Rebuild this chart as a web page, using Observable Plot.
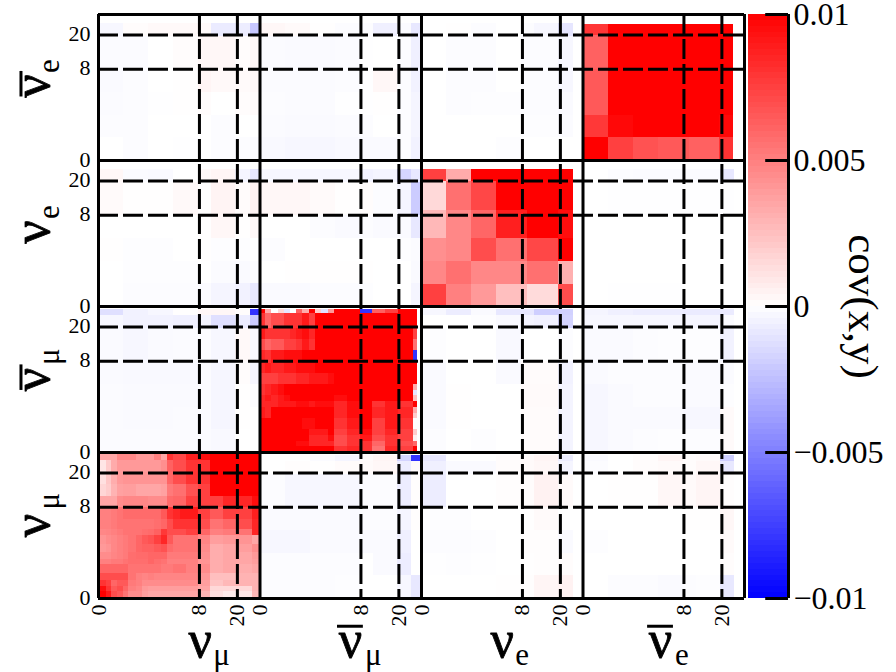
<!DOCTYPE html>
<html><head><meta charset="utf-8">
<script src="https://cdn.jsdelivr.net/npm/d3@7"></script>
<script src="https://cdn.jsdelivr.net/npm/@observablehq/plot@0.6"></script>
<style>
html,body{margin:0;padding:0;background:#fff;width:896px;height:672px;overflow:hidden}
#c{position:relative;width:896px;height:672px}
#c svg{position:absolute;left:0;top:0;background:transparent}
</style></head><body><div id="c"></div>
<script>
// Flavours, bottom-to-top and left-to-right; each occupies 100 axis units.
const flavourName = "ν";
const flavourBars = [false, true, false, true];
const flavourSubs = ["μ", "μ", "e", "e"];
const xNameAt = [63, 156, 250, 348];
const xSubAt = [71, 165, 258, 357];
const yNameAt = [42, 142, 243, 343];
const ySubAt = [61, 160, 260, 360];
const tickBins = [0, 62.5, 86];
const tickTexts = ["0", "8", "20"];
const colorTicks = [0.01, 0.005, 0, -0.005, -0.01];
const colorTickTexts = ["0.01", "0.005", "0", "−0.005", "−0.01"];

// All covariances below are read in units of 0.001. Rows run top to bottom.
const numuX = [0,4.9,8,11.5,15.2,18.7,23.3,27,31,34.6,38.7,42.8,46.5,50.6,54.7,62,69.5,77.4,85.6,95.3,100];
const numuY = [98.4,94.6,86,78,70,62,54.2,47.4,42.9,37.2,31.5,27,23.6,16.8,12.2,8.4,5,0];
const numuVals = [
[3.5,3.5,3.5,4.7,4.7,4.7,4,4,4,5,3.5,8,7.2,7.2,8.8,9.5,10,10,10,10],
[1,2,3.3,4,4,4,4,4,4,4,4.4,6.2,7,7,8,8,10,10,10,10],
[1.2,2.2,3.2,4,4.2,4.2,4.2,4.2,4.2,4.2,4.2,6,7,7,8,8,10,10,10,10],
[1.6,2,3,3.7,3.8,3.8,3.5,3.5,3.5,3.5,3.7,5.2,5.6,5.6,6.8,7.5,10,10,10,10],
[3.5,3.5,3.5,4.5,4.7,4.7,4.7,4.7,4.5,4.5,4.5,5.8,6,6,7.5,7.5,7.5,8.5,8.5,9.5],
[5,5,5.2,5.5,5.8,5.8,5.8,5.8,5.8,5.8,6.5,8,8.5,9,9,7.5,6.5,7.5,7.5,8.8],
[5,5,5.2,5.5,5.5,5.5,5.5,5.5,5.5,5.7,6,7,8,8,8,7,5.5,6,7,8.5],
[4.7,4.8,5,5.2,5.5,5.5,5.5,5.7,5.8,6.2,7.8,7,7,7,7.5,6,5,5.2,5.5,8.5],
[4.2,4.5,4.7,5,5.2,5.5,6,6.5,6.8,7.5,8.5,6.5,5.5,5.5,5.5,4.8,3.8,4,4.2,3.5],
[4,4.2,4.7,5,5.2,5.5,6,6.2,6.2,6.5,6.8,5.8,5.5,5.5,5.5,4.5,3.2,3.5,3.8,4.5],
[4.5,4.5,4.8,5,5.2,5.7,5.8,5.8,6,6,6,5.2,5.2,5.2,5.2,4.3,3.2,3.5,3.5,4],
[5,5,5.2,5.2,5.5,5.7,5.7,5.7,6,5.7,5.5,5,5,5,5,4.2,3.2,3.5,3.5,3.8],
[6,6,6,6,6,5.5,5.5,5.5,5.5,5.5,5.2,5.2,5.5,5.5,5,4.5,3.2,3.5,3.2,3.5],
[7,7,7,7,7,5.5,5,4.8,5,4.8,4.8,4.8,4.8,4.8,4.8,4,2.5,2.5,3,3],
[8,7.5,6,6.5,6.5,5.2,5,4.5,4.5,4.5,4.5,4.5,4.5,4.5,4.5,3.8,2.3,2.8,3,3],
[9.5,8,6.5,7,6,5,4.7,4,3.8,3.8,3.8,3.8,3.8,3.8,3.8,3.5,1.5,1.5,1.5,3],
[10,9,7,6.5,5.5,4.5,4.5,3.8,3.5,3.5,3.5,3.5,3.5,3.5,3.5,3,1.2,0.8,1,2.8]
];

const numubarX = [0.6,3.7,7.2,11.4,14.9,19,22.8,26.5,30.4,34.6,38.3,42.4,46,54.2,62,69.6,77.6,85.9,94.8];
const numubarY = [97.7,95,84.7,77.2,69.6,61.2,53.9,46.3,38.8,35,31,23.5,15.5,11.4,7.5,4.1,0.7];
const numubarVals = [
[10,3.3,0,1.5,-1,0,6.2,3.3,10,2,-1.2,4,10,10,-8,6.2,7.5,10],
[8,6,7,7,8,8,8,9,7.5,10,10,10,10,10,10,10,10,10],
[9,8,8,8,8,8.5,9,9.5,8.5,10,10,10,10,10,10,10,10,10],
[7,6,6.5,6.5,7.5,7.5,8,9,8,10,10,10,10,10,10,10,10,10],
[8.5,8,9,9,9.5,9.5,9.5,10,10,10,10,10,10,10,10,10,10,10],
[8.5,9,8.5,8.5,9,9,9.5,9.5,9.5,10,10,10,10,10,10,10,10,10],
[7.5,7.5,7.5,8,8,8,8.5,8.5,9,9,9,9.5,10,10,10,10,10,10],
[8,8.5,9,9.5,10,10,10,10,10,10,10,10,10,10,10,10,10,10],
[8.5,9,8.5,9,9.5,10,10,10,10,10,10,10,9.5,10,10,10,10,10],
[8.5,8.5,8.5,9,9,9,9.5,9.5,9,9.5,9.5,9.5,8.5,9.5,10,8,9,8],
[9,8.5,10,10,10,10,10,10,10,10,10,10,8.5,9.5,10,8.5,9,8.5],
[10,10,10,10,10,10,10,9.5,9.5,10,10,10,8,9,10,7.5,9,8],
[10,10,10,10,10,10,10,10,9,9,9,10,7.5,8.5,9.5,7.5,8.5,7.5],
[10,10,10,10,10,10,10,10,8.5,8.5,8.5,9.5,7,8,9,7,8,7.5],
[10,10,10,10,10,10,9.5,9.5,8.5,8.5,8.5,8.5,7,8,8,6,8,7],
[10,10,10,10,10,10,10,10,10,10,10,10,8,8.5,8,5.5,8.5,7.5]
];
const numubarEdgeX = [94.8,97.3];
const numubarEdgeY = [97.7,84.7,77.2,69.6,62,46.3,42.5,38.8,35,31,27,23.5,15.5,11.4,7.5,4.1,0.7];
const numubarEdgeVals = [[10],[7.5],[5.6],[-8],[10],[3.3],[-1],[2.5],[10],[3.3],[2],[0],[2],[0.6],[6],[10]];

const nueX = [0.4,15.5,31,46.5,65.7,84.9,94.2];
const nueY = [93.6,85.5,65.5,46.3,30.8,15.3,0];
const nueVals = [
[7.5,3.3,10,10,10,10],
[1.5,5.6,7.2,10,10,10],
[2.8,4.7,6,8.8,10,9.5],
[4.4,4.7,7,5.6,7.2,10],
[4.7,5.6,4.7,4.7,5.6,3.1],
[7.5,5,4,2.5,1.4,7]
];

const nuebarX = [1,15.5,31,46.5,66.1,84.7,93];
const nuebarY = [93,85.5,62,46.6,31,16,0];
const nuebarVals = [
[7.9,10,10,10,10,10],
[6.2,10,10,10,10,10],
[6.5,10,10,10,10,10],
[6.5,10,10,10,10,10],
[7.8,9.7,10,10,10,9.7],
[10,7.5,6.8,6.5,6.2,8]
];

// Off-diagonal blocks share a coarse grid.
const offX = [0,15.5,31,46.5,62,70,85,94,99.5];
const offY = [98,94,85,62,46.5,31,15.5,0];
const nuebarNumu = [[0,0,0,0,0,0,0,0],[-.3,.1,.25,.25,.2,-.8,-.7,-2.2],[-.15,-.15,0,.1,.3,.3,.1,.3],[-.2,-.1,0,.05,.4,.25,.2,.3],[-.15,-.1,-.05,.05,.1,0,.1,.2],[-.1,-.1,0,0,0,-.1,0,0],[0,-.1,0,-.05,0,-.1,-.1,-.15]];
const nuebarNumubar = [[0,0,0,0,0,0,0,0],[.3,.2,.05,-.1,-.1,-.6,-.15,-.9],[-.15,-.2,-.2,-.15,-.05,0,-.1,-.6],[-.15,-.15,-.15,-.1,-.05,.3,-.1,-.5],[-.1,-.15,-.15,-.05,-.05,.05,-.1,-.4],[-.15,-.2,-.2,-.15,-.1,0,-.1,-.4],[-.25,-.3,-.3,-.25,-.2,-.2,-.1,-.5]];
const nuebarNue = [[0,0,0,0,0,0,0,0],[0,.03,-.1,0,-.1,-.3,-1,0],[0,-.12,-.12,0,-.12,-.12,-.3,0],[0,-.12,-.12,0,-.12,-.12,-.3,0],[0,-.1,-.06,-.06,-.1,-.1,-.2,0],[0,0,0,0,-.06,-.06,-.15,0],[0,0,0,-.06,0,0,0,0]];
const nueNumu = [[0,0,0,0,0,0,0,0],[.3,-.15,-.2,0,.25,.4,-.4,-1],[.2,.05,.03,.25,.03,.45,.15,.5],[0,0,0,0,.05,.3,.05,.3],[.03,-.06,-.06,0,.03,-.06,-.06,0],[0,-.06,-.06,-.06,0,-.15,-.2,-.1],[0,-.1,-.1,-.12,-.15,-.4,-.5,-.9]];
const nueNumubar = [[0,0,0,0,0,0,0,0],[-.3,-.3,-.3,-.3,-.5,-.4,-1.6,-.9],[.3,.3,.2,.05,.1,-.1,-.4,-2],[0,0,-.12,-.2,-.12,-.2,-.2,-.9],[-.1,0,0,0,0,0,-.06,-.15],[0,.02,.02,.02,.05,0,0,-.2],[-.2,-.2,-.1,-.1,-.06,0,0,-.4]];
const nueNuebar = [[0,0,0,0,0,0,0,0],[0,-.12,-.15,-.15,-.15,-.15,-.9,0],[0,-.03,-.03,-.03,-.03,-.03,-.03,0],[0,0,0,0,0,0,0,0],[0,0,0,0,0,0,0,0],[0,0,0,0,0,0,0,0],[0,-.03,-.03,-.03,0,0,0,0]];
const numubarNumu = [[-1.2,-.5,-.3,.05,.3,.3,.1,-8],[-.3,-.5,-.5,-.6,-.4,-1.2,-.7,-2],[-.2,-.3,-.2,-.15,-.1,-.3,.25,-.25],[-.2,-.25,-.25,-.25,-.15,-.35,.1,-.4],[-.15,-.2,-.2,-.2,-.15,-.35,.05,-.1],[-.15,-.2,-.2,-.15,-.15,-.35,.05,0],[-.15,-.15,-.15,-.15,-.15,-.25,0,0]];
const numubarNue = [[-.3,-.7,-.2,-.9,-.9,-1.9,-1.8,0],[0,0,-.06,-.25,-.45,-.55,-1.7,0],[-.06,0,0,-.25,0,0,-.1,0],[-.2,0,0,-.2,.15,.15,-.5,0],[-.2,.03,0,0,.2,.2,-.45,0],[-.2,.03,0,0,.15,.15,-.45,0],[-.12,0,-.06,0,.15,.15,-.45,0]];
const numubarNuebar = [[-.4,-.6,-.7,-.7,-.8,-.8,-.8,0],[-.3,-.3,-.3,-.3,-.4,-.4,-.15,0],[-.2,-.2,-.12,-.06,-.06,-.06,-.5,0],[-.2,-.12,-.12,-.12,-.2,-.2,-.15,0],[-.3,-.2,-.12,-.12,-.2,-.2,-.06,0],[-.3,-.2,-.2,-.2,-.3,-.3,.2,0],[-.3,-.2,-.12,-.06,-.12,-.12,.2,0]];
const numuNumubar = [[0,0,-.15,-.4,.15,.4,-1.7,-8],[0,.06,.03,.15,.2,.3,-.7,.15],[-.12,-.3,-.3,-.3,-.12,-.12,-.7,.06],[-.2,-.2,-.2,-.2,-.12,-.12,-.4,.06],[-.3,-.3,-.2,-.2,-.2,-.2,-.6,0],[-.12,-.12,-.12,-.12,0,-.2,-.7,0],[-.12,-.12,-.12,-.06,0,0,-.3,-.9]];
const numuNue = [[-.9,0,0,.12,.2,.4,-.7,0],[-.6,-.2,-.2,.12,.2,.3,-.4,0],[-.7,0,0,.06,.12,.5,.2,0],[-.06,-.06,0,0,.03,.2,0,0],[-.1,-.1,-.06,0,.06,.06,-.2,0],[-.03,-.06,-.03,0,.03,.06,.12,0],[0,0,0,.03,.06,.4,.5,0]];
const numuNuebar = [[-.2,0,.12,.4,.12,.2,-1.9,0],[-.12,0,.12,.2,.12,.3,-.9,0],[0,.03,.03,.3,.2,.4,.06,0],[0,0,0,0,.02,.02,.3,0],[-.06,0,0,0,0,0,.2,0],[0,0,0,0,0,0,.12,0],[0,-.12,-.12,-.2,-.12,-.06,-.9,0]];

function blockCells(col, row, xs, ys, vals) {
  return vals.flatMap((r, i) => r.map((v, j) => ({
    x1: col * 100 + xs[j], x2: col * 100 + xs[j + 1],
    y1: row * 100 + ys[i + 1], y2: row * 100 + ys[i],
    cov: v * 0.001
  })));
}
const cells = [
  ...blockCells(0,0,numuX,numuY,numuVals),
  ...blockCells(1,1,numubarX,numubarY,numubarVals),
  ...blockCells(1,1,numubarEdgeX,numubarEdgeY,numubarEdgeVals),
  ...blockCells(2,2,nueX,nueY,nueVals),
  ...blockCells(3,3,nuebarX,nuebarY,nuebarVals),
  ...blockCells(0,3,offX,offY,nuebarNumu),
  ...blockCells(1,3,offX,offY,nuebarNumubar),
  ...blockCells(2,3,offX,offY,nuebarNue),
  ...blockCells(0,2,offX,offY,nueNumu),
  ...blockCells(1,2,offX,offY,nueNumubar),
  ...blockCells(3,2,offX,offY,nueNuebar),
  ...blockCells(0,1,offX,offY,numubarNumu),
  ...blockCells(2,1,offX,offY,numubarNue),
  ...blockCells(3,1,offX,offY,numubarNuebar),
  ...blockCells(1,0,offX,offY,numuNumubar),
  ...blockCells(2,0,offX,offY,numuNue),
  ...blockCells(3,0,offX,offY,numuNuebar)
];

const colorScale = {type:"linear", domain:[-0.01,0,0.01], range:["#0000ff","#ffffff","#ff0000"], clamp:true};
const font = "'Liberation Serif', 'Times New Roman', serif";
const panels = [0,1,2,3];
const barred = panels.filter(p => flavourBars[p]);
const allTicks = panels.flatMap(p => tickBins.map(b => p*100 + b));
const tickText = v => tickTexts[tickBins.indexOf(Math.round((v % 100)*10)/10)];
const lw = 3;
const nameStyle = {fontSize:52, fill:"#000", stroke:"#000", strokeWidth:0.8, lineAnchor:"middle"};
const subStyle = {fontSize:31, fill:"#000", lineAnchor:"middle"};

const main = Plot.plot({
  width:896, height:672,
  marginLeft:98, marginRight:152, marginTop:14, marginBottom:74,
  style:{fontFamily:font, background:"transparent"},
  x:{domain:[0,400], axis:null},
  y:{domain:[0,400], axis:null},
  color:colorScale,
  marks:[
    Plot.rect(cells,{x1:"x1",x2:"x2",y1:"y1",y2:"y2",fill:"cov",shapeRendering:"crispEdges"}),
    Plot.ruleX(panels.flatMap(p=>[p*100+62.5,p*100+86]),{stroke:"#000",strokeWidth:lw,strokeDasharray:"20 5"}),
    Plot.ruleY(panels.flatMap(p=>[p*100+62.5,p*100+86]),{stroke:"#000",strokeWidth:lw,strokeDasharray:"20 5"}),
    Plot.ruleX([0,100,200,300,400],{stroke:"#000",strokeWidth:lw}),
    Plot.ruleY([0,100,200,300,400],{stroke:"#000",strokeWidth:lw}),
    Plot.axisX({ticks:allTicks,tickSize:0,tickPadding:6,tickRotate:-90,tickFormat:tickText,fontSize:22,label:null}),
    Plot.axisY({ticks:allTicks,tickSize:0,tickPadding:8,dy:-1,tickFormat:tickText,fontSize:22,label:null}),
    // horizontal flavour labels
    Plot.text(panels,{x:p=>xNameAt[p],y:-29,text:()=>flavourName,...nameStyle}),
    Plot.ruleY(barred,{y:-19,x1:p=>xNameAt[p]-8,x2:p=>xNameAt[p]+8,stroke:"#000",strokeWidth:lw,clip:false}),
    Plot.text(panels,{x:p=>xSubAt[p],y:-39,text:p=>flavourSubs[p],textAnchor:"start",...subStyle}),
    // vertical flavour labels
    Plot.text(panels,{frameAnchor:"left",dx:-66,y:p=>yNameAt[p],text:()=>flavourName,rotate:-90,...nameStyle}),
    Plot.ruleX(barred,{x:-48,y1:p=>yNameAt[p]+0.5,y2:p=>yNameAt[p]+18,stroke:"#000",strokeWidth:lw,clip:false}),
    Plot.text(panels,{frameAnchor:"left",dx:-49,y:p=>ySubAt[p],text:p=>flavourSubs[p],rotate:-90,textAnchor:"start",...subStyle})
  ]
});

const barSteps = d3.range(-0.01,0.01,0.0002);
const bar = Plot.plot({
  width:896, height:672,
  marginLeft:748, marginRight:108, marginTop:14, marginBottom:74,
  style:{fontFamily:font, background:"transparent"},
  x:{domain:[0,1], axis:null},
  y:{domain:[-0.01,0.01], axis:null},
  color:colorScale,
  marks:[
    Plot.rect(barSteps,{x1:0,x2:1,y1:d=>d,y2:d=>d+0.0002,fill:d=>d+0.0001,shapeRendering:"crispEdges"}),
    Plot.ruleY(colorTicks,{x1:0.43,x2:1,stroke:"#000",strokeWidth:lw}),
    Plot.ruleX([1],{stroke:"#000",strokeWidth:lw}),
    Plot.axisY({anchor:"right",ticks:colorTicks,tickSize:0,tickPadding:5,tickFormat:v=>colorTickTexts[colorTicks.indexOf(v)],fontSize:32,label:null}),
    Plot.text(["cov(x,y)"],{frameAnchor:"right",dx:74,y:0,text:d=>d,rotate:90,fontSize:43,fill:"#000",lineAnchor:"middle",textAnchor:"middle"})
  ]
});
document.getElementById("c").append(main, bar);
</script></body></html>
